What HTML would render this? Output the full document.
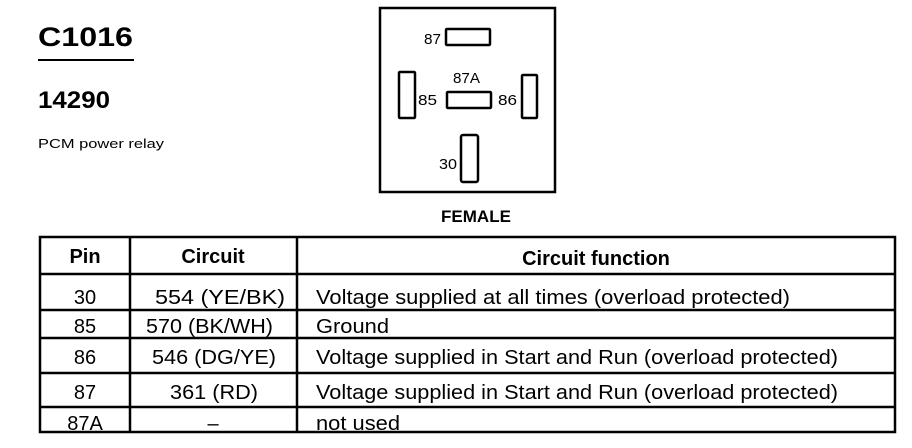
<!DOCTYPE html>
<html><head><meta charset="utf-8"><style>
html,body{margin:0;padding:0;background:#fff;}
svg{display:block;}
text{font-family:"Liberation Sans",Arial,sans-serif;fill:#000;}
</style></head><body>
<svg width="912" height="448" viewBox="0 0 912 448" xmlns="http://www.w3.org/2000/svg">
<text x="38" y="46" font-size="27" font-weight="bold" textLength="95" lengthAdjust="spacingAndGlyphs">C1016</text>
<line x1="38" y1="60" x2="134" y2="60" stroke="#000" stroke-width="2"/>
<text x="38" y="108" font-size="24" font-weight="bold" textLength="72" lengthAdjust="spacingAndGlyphs">14290</text>
<text x="38" y="148" font-size="13" textLength="126" lengthAdjust="spacingAndGlyphs">PCM power relay</text>

<rect x="380" y="8" width="175" height="184" fill="none" stroke="#000" stroke-width="2.5"/>
<rect x="446" y="29" width="44" height="16" fill="none" stroke="#000" stroke-width="2.5" rx="1"/>
<rect x="399" y="72" width="16" height="46" fill="none" stroke="#000" stroke-width="2.5" rx="1"/>
<rect x="447" y="92" width="44" height="16" fill="none" stroke="#000" stroke-width="2.5" rx="1"/>
<rect x="522" y="75" width="15" height="43" fill="none" stroke="#000" stroke-width="2.5" rx="1"/>
<rect x="461" y="135" width="17" height="47" fill="none" stroke="#000" stroke-width="2.5" rx="2"/>
<g font-size="15">
<text x="424" y="44" textLength="17" lengthAdjust="spacingAndGlyphs">87</text>
<text x="453" y="83" textLength="27" lengthAdjust="spacingAndGlyphs">87A</text>
<text x="418" y="105" textLength="19" lengthAdjust="spacingAndGlyphs">85</text>
<text x="498" y="105" textLength="19" lengthAdjust="spacingAndGlyphs">86</text>
<text x="439" y="169" textLength="18" lengthAdjust="spacingAndGlyphs">30</text>
</g>
<text x="476" y="222" font-size="17" font-weight="bold" text-anchor="middle">FEMALE</text>

<g stroke="#000" stroke-width="2.5" fill="none">
<rect x="40" y="237" width="855" height="195"/>
<line x1="130" y1="237" x2="130" y2="432"/>
<line x1="297" y1="237" x2="297" y2="432"/>
<line x1="40" y1="274" x2="895" y2="274"/>
<line x1="40" y1="310" x2="895" y2="310"/>
<line x1="40" y1="338" x2="895" y2="338"/>
<line x1="40" y1="373" x2="895" y2="373"/>
<line x1="40" y1="407" x2="895" y2="407"/>
</g>
<g font-size="20">
<text x="85" y="263" font-weight="bold" text-anchor="middle">Pin</text>
<text x="213" y="263" font-weight="bold" text-anchor="middle">Circuit</text>
<text x="596" y="265" font-weight="bold" text-anchor="middle">Circuit function</text>
<text x="85" y="304" text-anchor="middle">30</text>
<text x="155" y="304" textLength="130" lengthAdjust="spacingAndGlyphs">554 (YE/BK)</text>
<text x="316" y="304" textLength="474" lengthAdjust="spacingAndGlyphs">Voltage supplied at all times (overload protected)</text>
<text x="85" y="333" text-anchor="middle">85</text>
<text x="146" y="333" textLength="127" lengthAdjust="spacingAndGlyphs">570 (BK/WH)</text>
<text x="316" y="333" textLength="73" lengthAdjust="spacingAndGlyphs">Ground</text>
<text x="85" y="364" text-anchor="middle">86</text>
<text x="152" y="364" textLength="124" lengthAdjust="spacingAndGlyphs">546 (DG/YE)</text>
<text x="316" y="364" textLength="522" lengthAdjust="spacingAndGlyphs">Voltage supplied in Start and Run (overload protected)</text>
<text x="85" y="399" text-anchor="middle">87</text>
<text x="170" y="399" textLength="88" lengthAdjust="spacingAndGlyphs">361 (RD)</text>
<text x="316" y="399" textLength="522" lengthAdjust="spacingAndGlyphs">Voltage supplied in Start and Run (overload protected)</text>
<text x="85" y="430" text-anchor="middle">87A</text>
<text x="213" y="430" text-anchor="middle">–</text>
<text x="316" y="430" textLength="84" lengthAdjust="spacingAndGlyphs">not used</text>
</g>
</svg>
</body></html>
